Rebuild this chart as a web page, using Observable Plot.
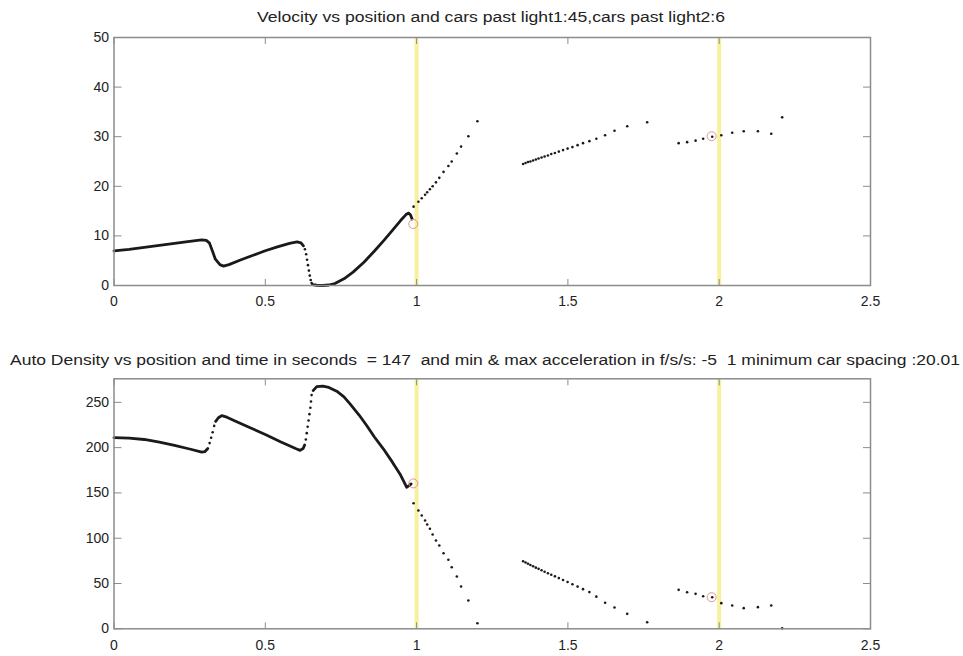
<!DOCTYPE html>
<html>
<head>
<meta charset="utf-8">
<script src="https://cdn.jsdelivr.net/npm/d3@7"></script>
<script src="https://cdn.jsdelivr.net/npm/@observablehq/plot@0.6"></script>
<style>
  html, body { margin: 0; padding: 0; background: white; }
  #chart { position: relative; width: 963px; height: 656px; }
  #chart svg { display: block; }
</style>
</head>
<body>
<div id="chart"></div>
<script>
// ---------- tick labels / reference lines ----------
const xTicks = [0, 0.5, 1, 1.5, 2, 2.5];
const vTicks = [0, 10, 20, 30, 40, 50];
const dTicks = [0, 50, 100, 150, 200, 250];
const lights = [1, 2];

const title1 = "Velocity vs position and cars past light1:45,cars past light2:6";
const title2 = "Auto Density vs position and time in seconds  = 147  and min & max acceleration in f/s/s: -5  1 minimum car spacing :20.01";

// ---------- velocity: dense curve pieces ----------
const velCurve1X = [0.0, 0.05, 0.1, 0.15, 0.2, 0.25, 0.29, 0.305, 0.315, 0.325, 0.335, 0.35, 0.362, 0.38, 0.42, 0.46, 0.5, 0.54, 0.58, 0.605, 0.618, 0.626];
const velCurve1Y = [7.0, 7.3, 7.7, 8.1, 8.5, 8.9, 9.2, 9.1, 8.6, 7.0, 5.3, 4.2, 3.9, 4.2, 5.2, 6.1, 7.0, 7.8, 8.5, 8.8, 8.6, 8.0];
const velJumpX = [0.631, 0.635, 0.638, 0.641, 0.644, 0.647, 0.650, 0.653];
const velJumpY = [7.3, 6.3, 5.2, 4.1, 3.0, 2.0, 1.1, 0.5];
const velCurve2X = [0.656, 0.67, 0.69, 0.71, 0.73, 0.76, 0.79, 0.826, 0.86, 0.892, 0.92, 0.947, 0.965, 0.974, 0.98, 0.985];
const velCurve2Y = [0.2, 0.05, 0.0, 0.1, 0.4, 1.35, 2.7, 4.7, 6.9, 9.1, 11.1, 13.1, 14.3, 14.6, 14.2, 13.4];

// ---------- density: dense curve pieces ----------
const denCurve1X = [0.0, 0.05, 0.1, 0.15, 0.2, 0.25, 0.29, 0.3, 0.31];
const denCurve1Y = [211, 210.5, 209, 206, 202.5, 198.5, 195, 195.5, 199];
const denJump1X = [0.316, 0.321, 0.326, 0.331];
const denJump1Y = [205, 211, 217, 224];
const denCurve2X = [0.336, 0.345, 0.356, 0.373, 0.4, 0.45, 0.5, 0.55, 0.6, 0.615, 0.625, 0.63];
const denCurve2Y = [229, 233, 235.4, 233.6, 229.5, 222, 214.5, 206.5, 199, 197, 199, 203];
const denJump2X = [0.634, 0.637, 0.640, 0.643, 0.646, 0.649, 0.651, 0.653];
const denJump2Y = [209, 216, 223, 230, 237, 244, 251, 258];
const denCurve3X = [0.658, 0.67, 0.69, 0.71, 0.736, 0.76, 0.78, 0.81, 0.835, 0.86, 0.89, 0.92, 0.945, 0.96, 0.967, 0.975, 0.982];
const denCurve3Y = [263, 267.4, 268, 266.5, 262.3, 256, 248.3, 236, 224.4, 212, 198.7, 184, 171, 161, 156.3, 158, 160];

// ---------- sparse cars (shared positions) ----------
const grp1X = [0.99, 1.006, 1.017, 1.028, 1.035, 1.044, 1.053, 1.064, 1.075, 1.089, 1.105, 1.116, 1.133, 1.147, 1.171, 1.201];
const grp1V = [15.9, 16.9, 17.6, 18.3, 18.8, 19.4, 20.0, 20.8, 21.7, 22.9, 24.1, 25.0, 26.6, 28.0, 30.1, 33.1];
const grp1D = [138.6, 130.6, 125.1, 119.5, 115.1, 110.4, 104.1, 97.5, 91.9, 83.4, 76.2, 68.0, 57.7, 46.7, 31.2, 6.2];

const grp2X = [1.352, 1.36, 1.368, 1.376, 1.385, 1.394, 1.403, 1.413, 1.423, 1.434, 1.445, 1.457, 1.47, 1.484, 1.499, 1.515, 1.532, 1.55, 1.571, 1.594, 1.623, 1.654, 1.696, 1.762];
const grp2V = [24.5, 24.7, 24.9, 25.0, 25.2, 25.4, 25.6, 25.8, 26.0, 26.2, 26.5, 26.7, 27.0, 27.3, 27.6, 27.9, 28.3, 28.7, 29.1, 29.6, 30.3, 31.2, 32.1, 32.9];
const grp2D = [74.6, 73.2, 71.8, 70.5, 69.0, 67.5, 66.2, 64.6, 63.0, 61.4, 59.7, 57.9, 56.0, 53.8, 51.6, 49.2, 46.6, 43.8, 40.5, 35.5, 28.8, 23.5, 16.5, 7.3];

const grp3X = [1.866, 1.894, 1.922, 1.947, 1.977, 2.007, 2.043, 2.081, 2.128, 2.172, 2.208];
const grp3V = [28.7, 28.9, 29.2, 29.6, 30.0, 30.3, 30.8, 31.1, 31.1, 30.6, 33.9];
const grp3D = [43.0, 40.4, 38.6, 36.0, 34.9, 28.3, 25.7, 22.8, 23.9, 25.7, 0.5];

// ---------- highlighted cars (red circles) ----------
const markX = [0.989, 1.975];
const markV = [12.4, 30.1];
const markD = [160.5, 34.9];

// ---------- helpers ----------
const rows = (xs, ys, piece) => xs.map((x, i) => ({x, y: ys[i], piece}));
const fmt = (d) => `${d}`;

const FONT = "'Liberation Sans', Arial, Helvetica, sans-serif";
const AX = "#8c8c8c";
const INK = "#1a1a1a";

function axes(ticksY) {
  return [
    Plot.frame({stroke: AX, strokeWidth: 1.5}),
    Plot.axisY({ticks: ticksY, tickFormat: fmt, anchor: "left", tickSize: 0, tickPadding: 5, label: null, fill: "#222"}),
    Plot.axisX({ticks: xTicks, tickFormat: fmt, anchor: "bottom", tickSize: 0, tickPadding: 11, label: null, fill: "#222"}),
    Plot.axisY({ticks: ticksY, anchor: "left", tickSize: 8, dx: 8, fill: "none", stroke: AX, label: null}),
    Plot.axisY({ticks: ticksY, anchor: "right", tickSize: 8, dx: -8, fill: "none", stroke: AX, label: null}),
    Plot.axisX({ticks: xTicks, anchor: "bottom", tickSize: 6, dy: -6, fill: "none", stroke: AX, label: null}),
    Plot.axisX({ticks: xTicks, anchor: "top", tickSize: 6, dy: 6, fill: "none", stroke: AX, label: null})
  ];
}

function panel({height, marginTop, marginBottom, yDomain, ticksY, curves, dots, marks}) {
  return Plot.plot({
    width: 963,
    height,
    marginLeft: 113.5,
    marginRight: 93,
    marginTop,
    marginBottom,
    x: {domain: [0, 2.5]},
    y: {domain: yDomain},
    style: {fontFamily: FONT, fontSize: "14px", background: "white", color: "#222"},
    marks: [
      Plot.ruleX(lights, {stroke: "#f7f09c", strokeWidth: 4}),
      Plot.line(curves, {x: "x", y: "y", z: "piece", stroke: INK, strokeWidth: 2.8, curve: "linear"}),
      Plot.dot(dots, {x: "x", y: "y", r: 1.3, fill: INK, stroke: "none"}),
      Plot.dot(marks, {x: "x", y: "y", r: 4.5, fill: "none", stroke: "#e09494", strokeWidth: 1}),
      ...axes(ticksY)
    ]
  });
}

function addTitle(svg, text, left, baseline, width) {
  d3.select(svg).append("text")
    .attr("x", left).attr("y", baseline)
    .attr("text-anchor", "start")
    .attr("fill", "#222")
    .attr("font-size", 14)
    .attr("textLength", width)
    .attr("lengthAdjust", "spacingAndGlyphs")
    .text(text);
}

// ---------- top panel: velocity ----------
const velCurves = [...rows(velCurve1X, velCurve1Y, "a"), ...rows(velCurve2X, velCurve2Y, "b")];
const velDots = [...rows(velJumpX, velJumpY), ...rows(grp1X, grp1V), ...rows(grp2X, grp2V), ...rows(grp3X, grp3V)];
const velMarks = rows(markX, markV);

const velPanel = panel({
  height: 310, marginTop: 37, marginBottom: 25,
  yDomain: [0, 50], ticksY: vTicks,
  curves: velCurves, dots: velDots, marks: velMarks
});
addTitle(velPanel, title1, 257, 21.5, 468);

// ---------- bottom panel: density ----------
const denCurves = [...rows(denCurve1X, denCurve1Y, "a"), ...rows(denCurve2X, denCurve2Y, "b"), ...rows(denCurve3X, denCurve3Y, "c")];
const denDots = [...rows(denJump1X, denJump1Y), ...rows(denJump2X, denJump2Y), ...rows(grp1X, grp1D), ...rows(grp2X, grp2D), ...rows(grp3X, grp3D)];
const denMarks = rows(markX, markD);

const denPanel = panel({
  height: 346, marginTop: 68.3, marginBottom: 27.7,
  yDomain: [0, 276], ticksY: dTicks,
  curves: denCurves, dots: denDots, marks: denMarks
});
addTitle(denPanel, title2, 10, 55, 950);

const chart = document.getElementById("chart");
chart.appendChild(velPanel);
chart.appendChild(denPanel);
</script>
</body>
</html>
